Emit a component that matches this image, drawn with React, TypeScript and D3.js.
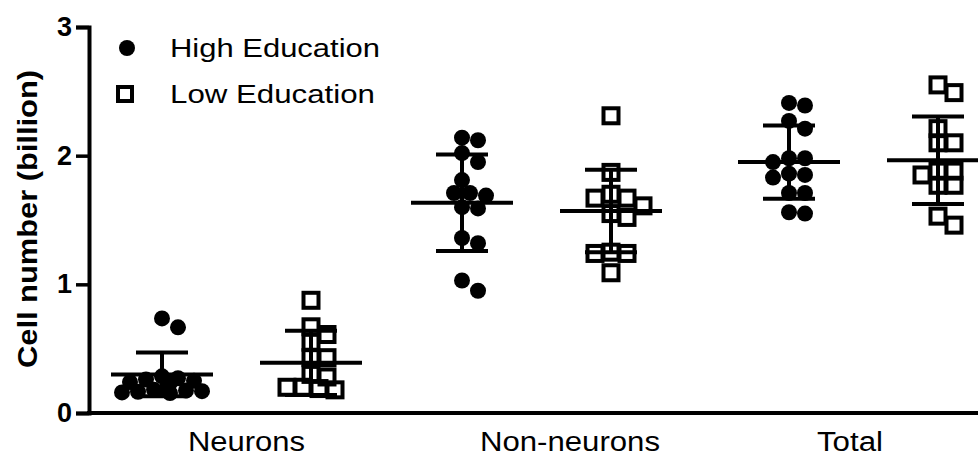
import React, { useEffect, useRef } from "react";
import * as d3 from "d3";

// categories and groups
const categories = ["Neurons", "Non-neurons", "Total"];
const groups = ["High Education", "Low Education"];

// cell numbers (billion)
const neuronsHigh = [0.735, 0.666, 0.285, 0.27, 0.26, 0.25, 0.24, 0.235, 0.18, 0.175, 0.17, 0.165, 0.16, 0.155];
const neuronsLow = [0.876, 0.61, 0.67, 0.55, 0.43, 0.43, 0.28, 0.3, 0.2, 0.19, 0.2, 0.18];
const nonNeuronsHigh = [2.12, 2.14, 2.02, 1.95, 1.81, 1.69, 1.71, 1.71, 1.6, 1.59, 1.36, 1.32, 0.95, 1.03];
const nonNeuronsLow = [2.31, 1.87, 1.7, 1.61, 1.67, 1.67, 1.55, 1.52, 1.24, 1.25, 1.24, 1.09];
const totalHigh = [2.41, 2.39, 2.27, 2.21, 1.98, 1.95, 1.98, 1.85, 1.83, 1.86, 1.71, 1.71, 1.55, 1.56];
const totalLow = [2.55, 2.49, 2.21, 2.1, 2.1, 1.88, 1.88, 1.85, 1.77, 1.77, 1.53, 1.46];

// mean and SD bars as drawn
const highMeans = [0.3, 1.635, 1.95];
const highSD = [0.17, 0.375, 0.285];
const lowMeans = [0.39, 1.57, 1.965];
const lowSD = [0.25, 0.32, 0.34];

const yTicks = [0, 1, 2, 3];

const width = 978;
const height = 457;
const font = "Arial, 'Liberation Sans', sans-serif";

export default function App() {
  const svgRef = useRef<SVGSVGElement>(null);

  useEffect(() => {
    const svg = d3.select(svgRef.current);
    svg.selectAll("*").remove();

    const y = d3.scaleLinear().domain([0, 3]).range([413, 27]);
    const groupX = d3.scaleOrdinal<string, number>().domain(categories).range([236.5, 536.5, 863.5]);
    const labelX = d3.scaleOrdinal<string, number>().domain(categories).range([246.5, 570, 850]);
    const eduOffset = d3.scaleOrdinal<string, number>().domain(groups).range([-74.5, 74.5]);
    const axisX = 89;

    // simple dodge so points sit side by side like Prism does,
    // crowded points overlap instead of spreading too far
    const dodge = (values: number[], cx: number) => {
      const step = 8;
      const minDist = 13.5;
      const maxK = 10;
      const placed: { x: number; y: number }[] = [];
      const sorted = [...values].sort((a, b) => b - a);
      sorted.forEach((v) => {
        const py = y(v);
        let best = { x: cx, d: -1 };
        for (let k = 0; k <= maxK; k++) {
          const off = k === 0 ? 0 : Math.ceil(k / 2) * step * (k % 2 ? 1 : -1);
          const px = cx + off;
          const near = placed.length ? d3.min(placed, (p) => Math.hypot(p.x - px, p.y - py))! : Infinity;
          if (near >= minDist) {
            best = { x: px, d: near };
            break;
          }
          if (near > best.d) best = { x: px, d: near };
        }
        placed.push({ x: best.x, y: py });
      });
      return placed;
    };

    // x axis line
    svg
      .append("line")
      .attr("x1", axisX - 2)
      .attr("x2", width)
      .attr("y1", y(0))
      .attr("y2", y(0))
      .attr("stroke", "black")
      .attr("stroke-width", 4);

    // y axis
    const yAxis = d3.axisLeft(y).tickValues(yTicks).tickFormat(d3.format("d")).tickSizeOuter(0).tickSize(13).tickPadding(4);
    const gy = svg.append("g").attr("transform", `translate(${axisX},0)`).call(yAxis);
    gy.select(".domain").attr("stroke-width", 4);
    gy.selectAll(".tick line").attr("stroke-width", 3.5);
    gy.selectAll(".tick text")
      .attr("font-family", font)
      .attr("font-weight", "bold")
      .attr("font-size", 27)
      .attr("fill", "black");

    svg
      .append("text")
      .attr("transform", `translate(37, 219) rotate(-90)`)
      .attr("text-anchor", "middle")
      .attr("font-family", font)
      .attr("font-weight", "bold")
      .attr("font-size", 28)
      .attr("textLength", 298)
      .attr("lengthAdjust", "spacingAndGlyphs")
      .text("Cell number (billion)");

    // category labels
    svg
      .selectAll("text.cat")
      .data(categories)
      .enter()
      .append("text")
      .attr("class", "cat")
      .attr("x", (d) => labelX(d))
      .attr("y", 451)
      .attr("text-anchor", "middle")
      .attr("font-family", font)
      .attr("font-size", 27)
      .attr("textLength", (d, i) => [117, 180, 66][i])
      .attr("lengthAdjust", "spacingAndGlyphs")
      .text((d) => d);

    const sets = [
      { group: groups[0], values: [neuronsHigh, nonNeuronsHigh, totalHigh], means: highMeans, sds: highSD },
      { group: groups[1], values: [neuronsLow, nonNeuronsLow, totalLow], means: lowMeans, sds: lowSD },
    ];

    sets.forEach((s) => {
      categories.forEach((c, i) => {
        const cx = groupX(c) + eduOffset(s.group);
        const pts = dodge(s.values[i], cx);
        const g = svg.append("g");
        if (s.group === groups[0]) {
          g.selectAll("circle")
            .data(pts)
            .enter()
            .append("circle")
            .attr("cx", (d) => d.x)
            .attr("cy", (d) => d.y)
            .attr("r", 8)
            .attr("fill", "black");
        } else {
          g.selectAll("rect")
            .data(pts)
            .enter()
            .append("rect")
            .attr("x", (d) => d.x - 7.5)
            .attr("y", (d) => d.y - 7.5)
            .attr("width", 15)
            .attr("height", 15)
            .attr("fill", "none")
            .attr("stroke", "black")
            .attr("stroke-width", 4);
        }
        const m = s.means[i];
        const sd = s.sds[i];
        const bar = svg.append("g").attr("stroke", "black").attr("stroke-width", 4);
        bar.append("line").attr("x1", cx - 51).attr("x2", cx + 51).attr("y1", y(m)).attr("y2", y(m));
        bar.append("line").attr("x1", cx).attr("x2", cx).attr("y1", y(m - sd)).attr("y2", y(m + sd));
        [m - sd, m + sd].forEach((v) => {
          bar.append("line").attr("x1", cx - 26).attr("x2", cx + 26).attr("y1", y(v)).attr("y2", y(v));
        });
      });
    });

    // legend
    const legend = svg.append("g");
    legend.append("circle").attr("cx", 127).attr("cy", 48).attr("r", 8).attr("fill", "black");
    legend
      .append("rect")
      .attr("x", 118)
      .attr("y", 87)
      .attr("width", 14)
      .attr("height", 14)
      .attr("fill", "none")
      .attr("stroke", "black")
      .attr("stroke-width", 4);
    legend
      .selectAll("text")
      .data(groups)
      .enter()
      .append("text")
      .attr("x", 170)
      .attr("y", (d, i) => [57, 103][i])
      .attr("font-family", font)
      .attr("font-size", 26)
      .attr("textLength", (d, i) => [210, 205][i])
      .attr("lengthAdjust", "spacingAndGlyphs")
      .text((d) => d);
  }, []);

  return (
    <svg
      ref={svgRef}
      width={width}
      height={height}
      style={{ position: "absolute", left: 0, top: 0, background: "white" }}
    ></svg>
  );
}
